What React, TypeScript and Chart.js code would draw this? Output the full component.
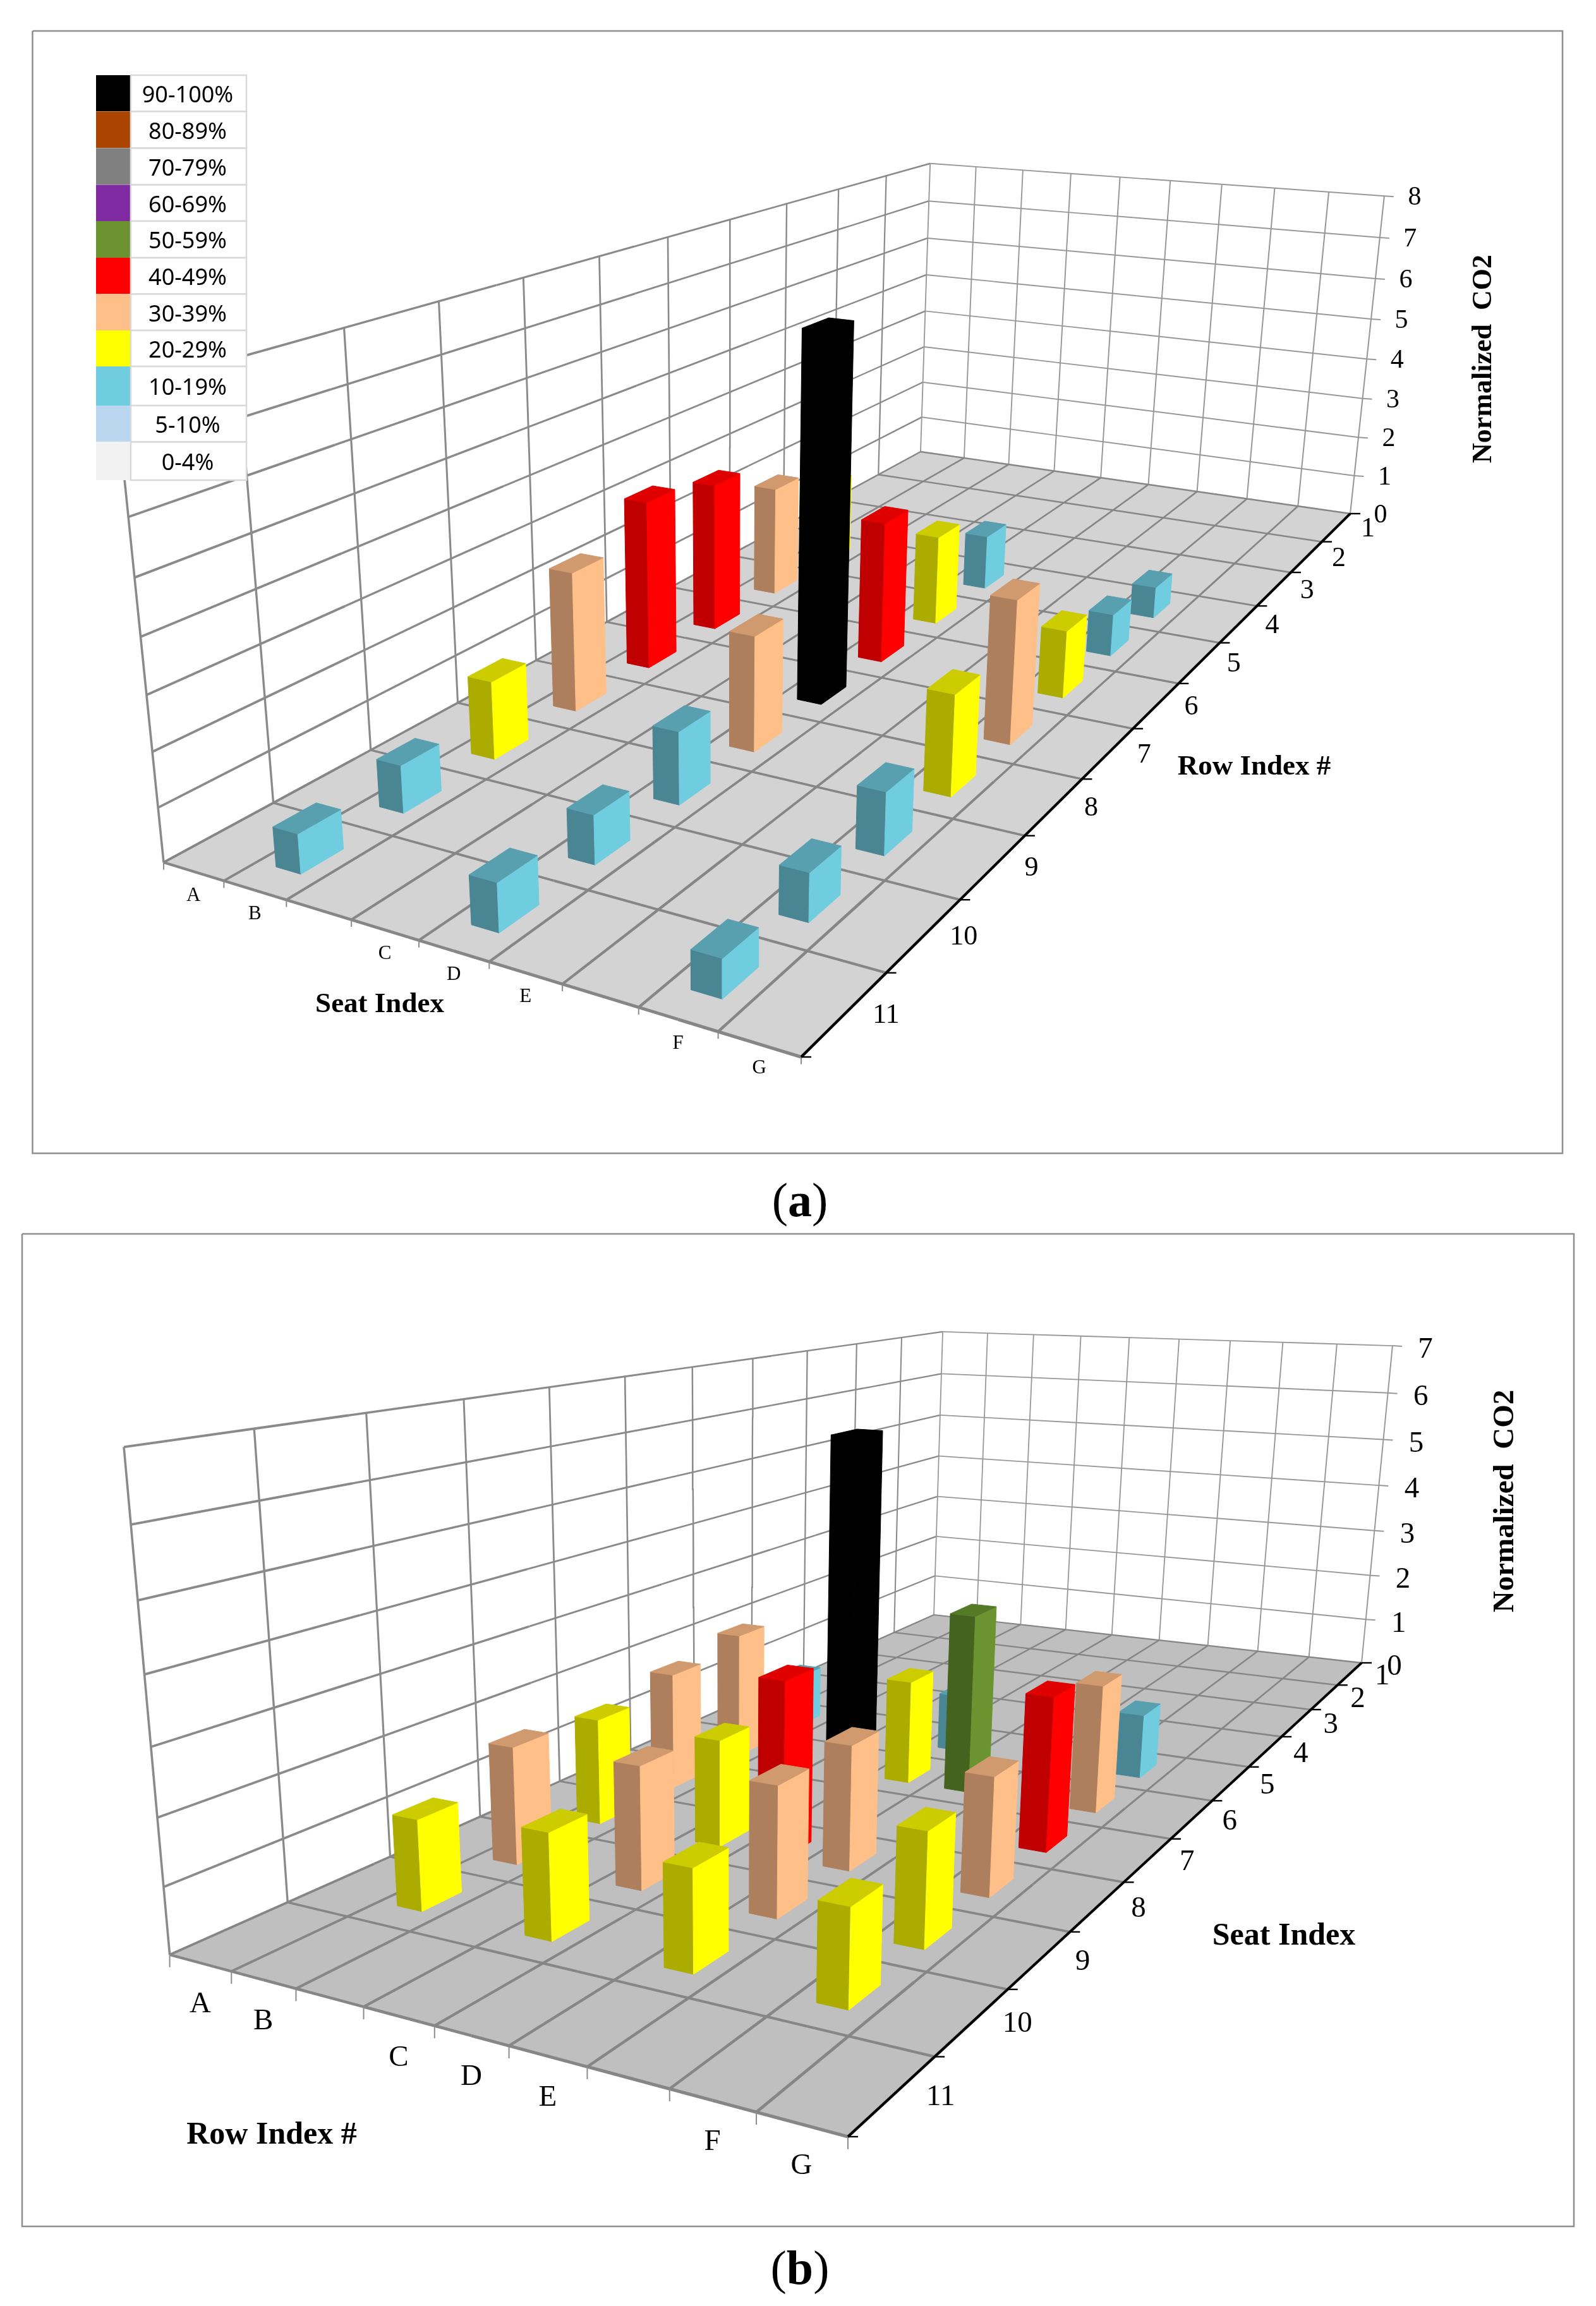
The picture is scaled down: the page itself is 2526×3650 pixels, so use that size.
import { useEffect, useRef } from 'react';
import { Chart, registerables } from 'chart.js';

Chart.register(...registerables);

// ---------- categories and ticks ----------
const seatCategories = ['A', 'B', '', 'C', 'D', 'E', '', 'F', 'G'];
const rowCategories = ['1', '2', '3', '4', '5', '6', '7', '8', '9', '10', '11'];
const zTicksA = [0, 1, 2, 3, 4, 5, 6, 7, 8];
const zTicksB = [0, 1, 2, 3, 4, 5, 6, 7];
const legendBands = ['90-100%', '80-89%', '70-79%', '60-69%', '50-59%', '40-49%', '30-39%', '20-29%', '10-19%', '5-10%', '0-4%'];

// ---------- panel (a) values ----------
const aRows = [11, 10, 9, 8, 7, 6, 5, 4];
const aSeatBValues = [0.73, 0.91, 1.54, 2.85, 3.55, 3.22, 2.45, 1.84];
const aSeatBBands = ['10-19%', '10-19%', '20-29%', '30-39%', '40-49%', '40-49%', '30-39%', '20-29%'];
const aSeatDValues = [0.87, 0.91, 1.4, 2.3, 7.45, 3.0, 1.96, 1.23];
const aSeatDBands = ['10-19%', '10-19%', '10-19%', '30-39%', '90-100%', '40-49%', '20-29%', '10-19%'];
const aSeatFValues = [0.67, 0.87, 1.17, 1.96, 2.88, 1.41, 0.91, 0.7];
const aSeatFBands = ['10-19%', '10-19%', '10-19%', '20-29%', '30-39%', '20-29%', '10-19%', '10-19%'];

// ---------- panel (b) values ----------
const bSeatBRows = [10, 9, 8, 7, 6, 5];
const bSeatBValues = [1.42, 1.92, 1.8, 2.06, 2.3, 1.0];
const bSeatBBands = ['20-29%', '30-39%', '20-29%', '30-39%', '30-39%', '10-19%'];
const bSeatCRows = [10, 9, 8];
const bSeatCValues = [1.62, 1.97, 1.78];
const bSeatCBands = ['20-29%', '30-39%', '20-29%'];
const bSeatDRows = [8, 7, 6, 5];
const bSeatDValues = [2.9, 6.4, 1.85, 1.06];
const bSeatDBands = ['40-49%', '90-100%', '20-29%', '10-19%'];
const bSeatERows = [10, 9, 8, 6];
const bSeatEValues = [1.52, 2.03, 2.03, 3.16];
const bSeatEBands = ['20-29%', '30-39%', '30-39%', '50-59%'];
const bSeatFRows = [10, 9, 8, 7, 6, 5];
const bSeatFValues = [1.42, 1.74, 1.89, 2.56, 2.22, 1.16];
const bSeatFBands = ['20-29%', '20-29%', '30-39%', '40-49%', '30-39%', '10-19%'];

// ---------- styles ----------
const bandFaces: Record<string, { light: string; dark: string; top: string }> = {
  '90-100%': { light: '#000000', dark: '#000000', top: '#000000' },
  '80-89%': { light: '#AA4400', dark: '#773000', top: '#883600' },
  '70-79%': { light: '#808080', dark: '#5A5A5A', top: '#666666' },
  '60-69%': { light: '#7F2AA1', dark: '#591D71', top: '#662281' },
  '50-59%': { light: '#6B9431', dark: '#44631F', top: '#557A27' },
  '40-49%': { light: '#FF0000', dark: '#C00000', top: '#DF0000' },
  '30-39%': { light: '#FFBF88', dark: '#AD7F5C', top: '#D1996E' },
  '20-29%': { light: '#FFFF00', dark: '#ABAB00', top: '#CCCC00' },
  '10-19%': { light: '#6FCDDF', dark: '#4A8594', top: '#589FAF' },
  '5-10%': { light: '#BBD7F0', dark: '#8AA0B4', top: '#9CB2C8' },
  '0-4%': { light: '#F2F2F2', dark: '#B5B5B5', top: '#CCCCCC' },
};

type Pt = [number, number];
interface BarSpec { seat: string; row: number; value: number; band: string }

function seatBars(seat: string, rows: number[], values: number[], bands: string[]): BarSpec[] {
  return rows.map((row, i) => ({ seat, row, value: values[i], band: bands[i] }));
}

const panelA = {
  top: 0,
  height: 1900,
  frame: [51.5, 49, 2473, 1825.5],
  floor: [[259, 1365], [1268, 1673], [2137, 813], [1457, 715]] as Pt[],
  tops: [[185, 624], [1470, 256], [2192, 311]] as Pt[],
  zMax: 8,
  zTicks: zTicksA,
  floorColor: '#D3D3D3',
  bars: [
    ...seatBars('B', aRows, aSeatBValues, aSeatBBands),
    ...seatBars('D', aRows, aSeatDValues, aSeatDBands),
    ...seatBars('F', aRows, aSeatFValues, aSeatFBands),
  ],
  seatFont: 31, seatOff: 38,
  rowFont: 44, rowA: 30, rowB: 30, rowDy: 3,
  zFont: 42, zOff: 48, zDy: 3,
  titleFont: 45,
  seatTitle: [601, 1590], rowTitle: [1985, 1214],
  zFontTitle: 44, zTitle: [2349, 568],
  legend: true,
};

const panelB = {
  top: 1900,
  height: 1750,
  frame: [35, 1953, 2491, 3524],
  floor: [[268.6, 3094], [1342, 3382], [2155, 2632], [1478, 2556]] as Pt[],
  tops: [[196, 2289], [1492, 2107], [2204, 2132]] as Pt[],
  zMax: 7,
  zTicks: zTicksB,
  floorColor: '#BFBFBF',
  bars: [
    ...seatBars('B', bSeatBRows, bSeatBValues, bSeatBBands),
    ...seatBars('C', bSeatCRows, bSeatCValues, bSeatCBands),
    ...seatBars('D', bSeatDRows, bSeatDValues, bSeatDBands),
    ...seatBars('E', bSeatERows, bSeatEValues, bSeatEBands),
    ...seatBars('F', bSeatFRows, bSeatFValues, bSeatFBands),
  ],
  seatFont: 47, seatOff: 66,
  rowFont: 47, rowA: 25, rowB: 42, rowDy: 4,
  zFont: 47, zOff: 52, zDy: 7,
  titleFont: 50,
  seatTitle: [2032, 3065], rowTitle: [430, 3380],
  zFontTitle: 47, zTitle: [2383, 2376],
  legend: false,
};

type Panel = typeof panelA;

// ---------- projection from (seat position, row position, value) to the scales' plane ----------
function makeProjector(p: Panel) {
  const [[x0, y0], [x1, y1], [x2, y2], [x3, y3]] = p.floor;
  const dx1 = x1 - x2, dx2 = x3 - x2, sx = x0 - x1 + x2 - x3;
  const dy1 = y1 - y2, dy2 = y3 - y2, sy = y0 - y1 + y2 - y3;
  const den = dx1 * dy2 - dx2 * dy1;
  const g = (sx * dy2 - dx2 * sy) / den;
  const h = (dx1 * sy - sx * dy1) / den;
  const a = x1 - x0 + g * x1, b = x3 - x0 + h * x3, c = x0;
  const d = y1 - y0 + g * y1, e = y3 - y0 + h * y3, f = y0;
  const tops: [number, number][] = [[0, 0], [0, 1], [1, 1]];
  const rows: number[][] = [];
  const rhs: number[] = [];
  tops.forEach(([u, w], i) => {
    const [X, Y] = p.tops[i];
    const q = g * u + h * w + 1;
    rows.push([1, 0, -X]);
    rhs.push(X * q - (a * u + b * w + c));
    rows.push([0, 1, -Y]);
    rhs.push(Y * q - (d * u + e * w + f));
  });
  const M = [0, 1, 2].map((i) => [0, 1, 2].map((j) => rows.reduce((t, r) => t + r[i] * r[j], 0)));
  const v = [0, 1, 2].map((i) => rows.reduce((t, r, k) => t + r[i] * rhs[k], 0));
  for (let i = 0; i < 3; i++) {
    let piv = i;
    for (let k = i + 1; k < 3; k++) if (Math.abs(M[k][i]) > Math.abs(M[piv][i])) piv = k;
    [M[i], M[piv]] = [M[piv], M[i]];
    [v[i], v[piv]] = [v[piv], v[i]];
    for (let k = 0; k < 3; k++) {
      if (k === i) continue;
      const m = M[k][i] / M[i][i];
      for (let j = 0; j < 3; j++) M[k][j] -= m * M[i][j];
      v[k] -= m * v[i];
    }
  }
  const cx = v[0] / M[0][0], cy = v[1] / M[1][1], cz = v[2] / M[2][2];
  const depth = (s: number, r: number) => g * (s / 9) + h * (1 - r / 11) + 1;
  const project = (s: number, r: number, z: number): Pt => {
    const u = s / 9, w = 1 - r / 11, zn = z / p.zMax;
    const q = g * u + h * w + 1 + cz * zn;
    return [(a * u + b * w + c + cx * zn) / q, (d * u + e * w + f + cy * zn) / q];
  };
  return { project, depth };
}

const toData = (pts: Pt[]) => pts.map(([x, y]) => ({ x, y }));

function buildDatasets(p: Panel) {
  const { project, depth } = makeProjector(p);
  const sets: any[] = [];

  const polygon = (pts: Pt[], color: string) => {
    sets.push({
      data: toData([...pts, pts[0]]),
      showLine: true,
      fill: 'shape',
      backgroundColor: color,
      borderColor: color,
      borderWidth: 1,
      pointRadius: 0,
      clip: false,
    });
  };
  const line = (
    from: [number, number, number],
    to: [number, number, number],
    color: string,
    base: number,
  ) => {
    const n = 6;
    const pts: Pt[] = [];
    const widths: number[] = [];
    for (let i = 0; i <= n; i++) {
      const t = i / n;
      const s = from[0] + (to[0] - from[0]) * t;
      const r = from[1] + (to[1] - from[1]) * t;
      const z = from[2] + (to[2] - from[2]) * t;
      pts.push(project(s, r, z));
      widths.push(Math.max(1.8, base / depth(s, r)));
    }
    sets.push({
      data: toData(pts),
      showLine: true,
      fill: false,
      borderColor: color,
      borderWidth: base,
      pointRadius: 0,
      clip: false,
      segment: { borderWidth: (ctx: any) => widths[ctx.p0DataIndex] },
    });
  };
  const seg = (a: Pt, b: Pt, color: string, width: number) => {
    sets.push({
      data: toData([a, b]),
      showLine: true,
      fill: false,
      borderColor: color,
      borderWidth: width,
      pointRadius: 0,
      clip: false,
    });
  };

  const wallLeft = '#8A8A8A';
  const wallBack = '#989898';
  const gridFloor = '#868686';
  const nS = seatCategories.length;
  const nR = rowCategories.length;

  // frame
  const [fl, ft, fr, fb] = p.frame;
  sets.push({
    data: toData([[fl, ft], [fr, ft], [fr, fb], [fl, fb], [fl, ft]]),
    showLine: true, fill: false, borderColor: '#8E8E8E', borderWidth: 2.5, pointRadius: 0, clip: false,
  });

  // walls
  p.zTicks.forEach((z) => {
    if (z > 0) line([0, nR, z], [0, 0, z], wallLeft, 3.8);
    if (z > 0) line([0, 0, z], [nS, 0, z], wallBack, 3.2);
    if (z > 0) {
      const end = project(nS, 0, z);
      seg(end, [end[0] + 15, end[1] + 1], wallBack, 2);
    }
  });
  for (let r = 0; r <= nR; r++) line([0, r, 0], [0, r, p.zMax], r === 0 ? wallBack : wallLeft, r === 0 ? 3.2 : 3.6);
  for (let s = 1; s <= nS; s++) line([s, 0, 0], [s, 0, p.zMax], wallBack, 3.2);

  // floor
  polygon([project(0, nR, 0), project(nS, nR, 0), project(nS, 0, 0), project(0, 0, 0)], p.floorColor);
  for (let r = 0; r <= nR; r++) line([0, r, 0], [nS, r, 0], gridFloor, r === nR ? 4.4 : 3.9);
  for (let s = 0; s <= nS; s++) line([s, nR, 0], [s, 0, 0], gridFloor, 3.9);

  // ticks under the front edge and black row axis
  for (let s = 0; s <= nS; s++) {
    const at = project(s, nR, 0);
    seg(at, [at[0], at[1] + p.seatOff * 0.3], '#8C8C8C', 2);
  }
  for (let r = 0; r <= nR; r++) {
    const at = project(nS, r, 0);
    seg(at, [at[0] + 16, at[1]], '#000000', 2.4);
  }
  seg(project(nS, nR, 0), project(nS, 0, 0), '#000000', 4);

  // bars, far to near
  const half = 0.2;
  const order = [...p.bars].sort((m, n) => m.row - n.row || seatCategories.indexOf(m.seat) - seatCategories.indexOf(n.seat));
  order.forEach((bar) => {
    const sc = seatCategories.indexOf(bar.seat) + 0.5;
    const rc = bar.row - 0.5;
    const s0 = sc - half, s1 = sc + half, r0 = rc - half, r1 = rc + half;
    const v = bar.value;
    const face = bandFaces[bar.band];
    polygon([project(s0, r1, 0), project(s1, r1, 0), project(s1, r1, v), project(s0, r1, v)], face.dark);
    polygon([project(s1, r1, 0), project(s1, r0, 0), project(s1, r0, v), project(s1, r1, v)], face.light);
    polygon([project(s0, r1, v), project(s1, r1, v), project(s1, r0, v), project(s0, r0, v)], face.top);
  });

  return { sets: sets.map((d, i) => ({ ...d, order: sets.length - i })), project, depth };
}

function makeTextPlugin(p: Panel, project: any, depth: any) {
  return {
    id: 'panelText',
    afterDraw(chart: any) {
      const { ctx, scales } = chart;
      const X = (v: number) => scales.x.getPixelForValue(v);
      const Y = (v: number) => scales.y.getPixelForValue(v);
      const nS = seatCategories.length;
      const nR = rowCategories.length;
      ctx.save();
      ctx.fillStyle = '#000';
      ctx.textAlign = 'center';
      ctx.textBaseline = 'middle';

      ctx.font = `${p.seatFont}px "Liberation Serif"`;
      seatCategories.forEach((label, i) => {
        if (!label) return;
        const [x, y] = project(i + 0.5, nR, 0);
        ctx.fillText(label, X(x), Y(y + p.seatOff));
      });

      ctx.font = `${p.rowFont}px "Liberation Serif"`;
      rowCategories.forEach((label, i) => {
        const [x, y] = project(nS, i + 0.5, 0);
        ctx.fillText(label, X(x + p.rowA + p.rowB / depth(nS, i + 0.5)), Y(y + p.rowDy));
      });

      ctx.font = `${p.zFont}px "Liberation Serif"`;
      p.zTicks.forEach((z) => {
        const [x, y] = project(nS, 0, z);
        ctx.fillText(String(z), X(x + p.zOff), Y(y + p.zDy));
      });

      ctx.font = `bold ${p.titleFont}px "Liberation Serif"`;
      ctx.fillText('Seat Index', X(p.seatTitle[0]), Y(p.seatTitle[1]));
      ctx.fillText('Row Index #', X(p.rowTitle[0]), Y(p.rowTitle[1]));

      ctx.save();
      ctx.translate(X(p.zTitle[0]), Y(p.zTitle[1]));
      ctx.rotate(-Math.PI / 2);
      ctx.font = `bold ${p.zFontTitle}px "Liberation Serif"`;
      ctx.fillText('Normalized  CO2', 0, 0);
      ctx.restore();

      if (p.legend) {
        const edges = [119, 176.5, 234.5, 292.5, 350, 408, 465.5, 523, 580, 642, 699.5, 760];
        ctx.font = '36px "Noto Sans"';
        legendBands.forEach((band, i) => {
          const t = Y(edges[i]);
          const b = Y(edges[i + 1]);
          ctx.fillStyle = '#FFFFFF';
          ctx.fillRect(X(152), t, X(390) - X(152), b - t);
          ctx.fillStyle = bandFaces[band].light;
          ctx.fillRect(X(152), t, X(207) - X(152), b - t);
          ctx.strokeStyle = '#D9D9D9';
          ctx.lineWidth = 2.5;
          ctx.strokeRect(X(207), t, X(390) - X(207), b - t);
          ctx.fillStyle = '#000';
          ctx.fillText(band, X(297), (t + b) / 2 + 4);
        });
      }
      ctx.restore();
    },
  };
}

function PanelChart({ panel }: { panel: Panel }) {
  const ref = useRef<HTMLCanvasElement>(null);
  useEffect(() => {
    const { sets, project, depth } = buildDatasets(panel);
    const chart = new Chart(ref.current as HTMLCanvasElement, {
      type: 'scatter',
      data: { datasets: sets },
      options: {
        responsive: false,
        animation: false,
        devicePixelRatio: 1,
        events: [],
        layout: { padding: 0 },
        plugins: { legend: { display: false }, tooltip: { enabled: false }, title: { display: false } },
        scales: {
          x: { type: 'linear', display: false, min: 0, max: 2526 },
          y: { type: 'linear', display: false, min: panel.top, max: panel.top + panel.height, reverse: true },
        },
      } as any,
      plugins: [makeTextPlugin(panel, project, depth)],
    });
    return () => chart.destroy();
  }, [panel]);
  return (
    <canvas
      ref={ref}
      width={2526}
      height={panel.height}
      style={{ position: 'absolute', left: 0, top: panel.top, display: 'block' }}
    />
  );
}

function Caption({ letter, top }: { letter: string; top: number }) {
  return (
    <div
      style={{
        position: 'absolute', left: 3, width: 2526, top, textAlign: 'center',
        font: '76px "Liberation Serif"', color: '#000', lineHeight: '80px',
      }}
    >
      (<b>{letter}</b>)
    </div>
  );
}

export default function App() {
  return (
    <div style={{ position: 'absolute', left: 0, top: 0, width: 2526, height: 3650, background: '#fff', overflow: 'hidden' }}>
      <PanelChart panel={panelA} />
      <PanelChart panel={panelB as Panel} />
      <Caption letter="a" top={1859} />
      <Caption letter="b" top={3549} />
    </div>
  );
}
